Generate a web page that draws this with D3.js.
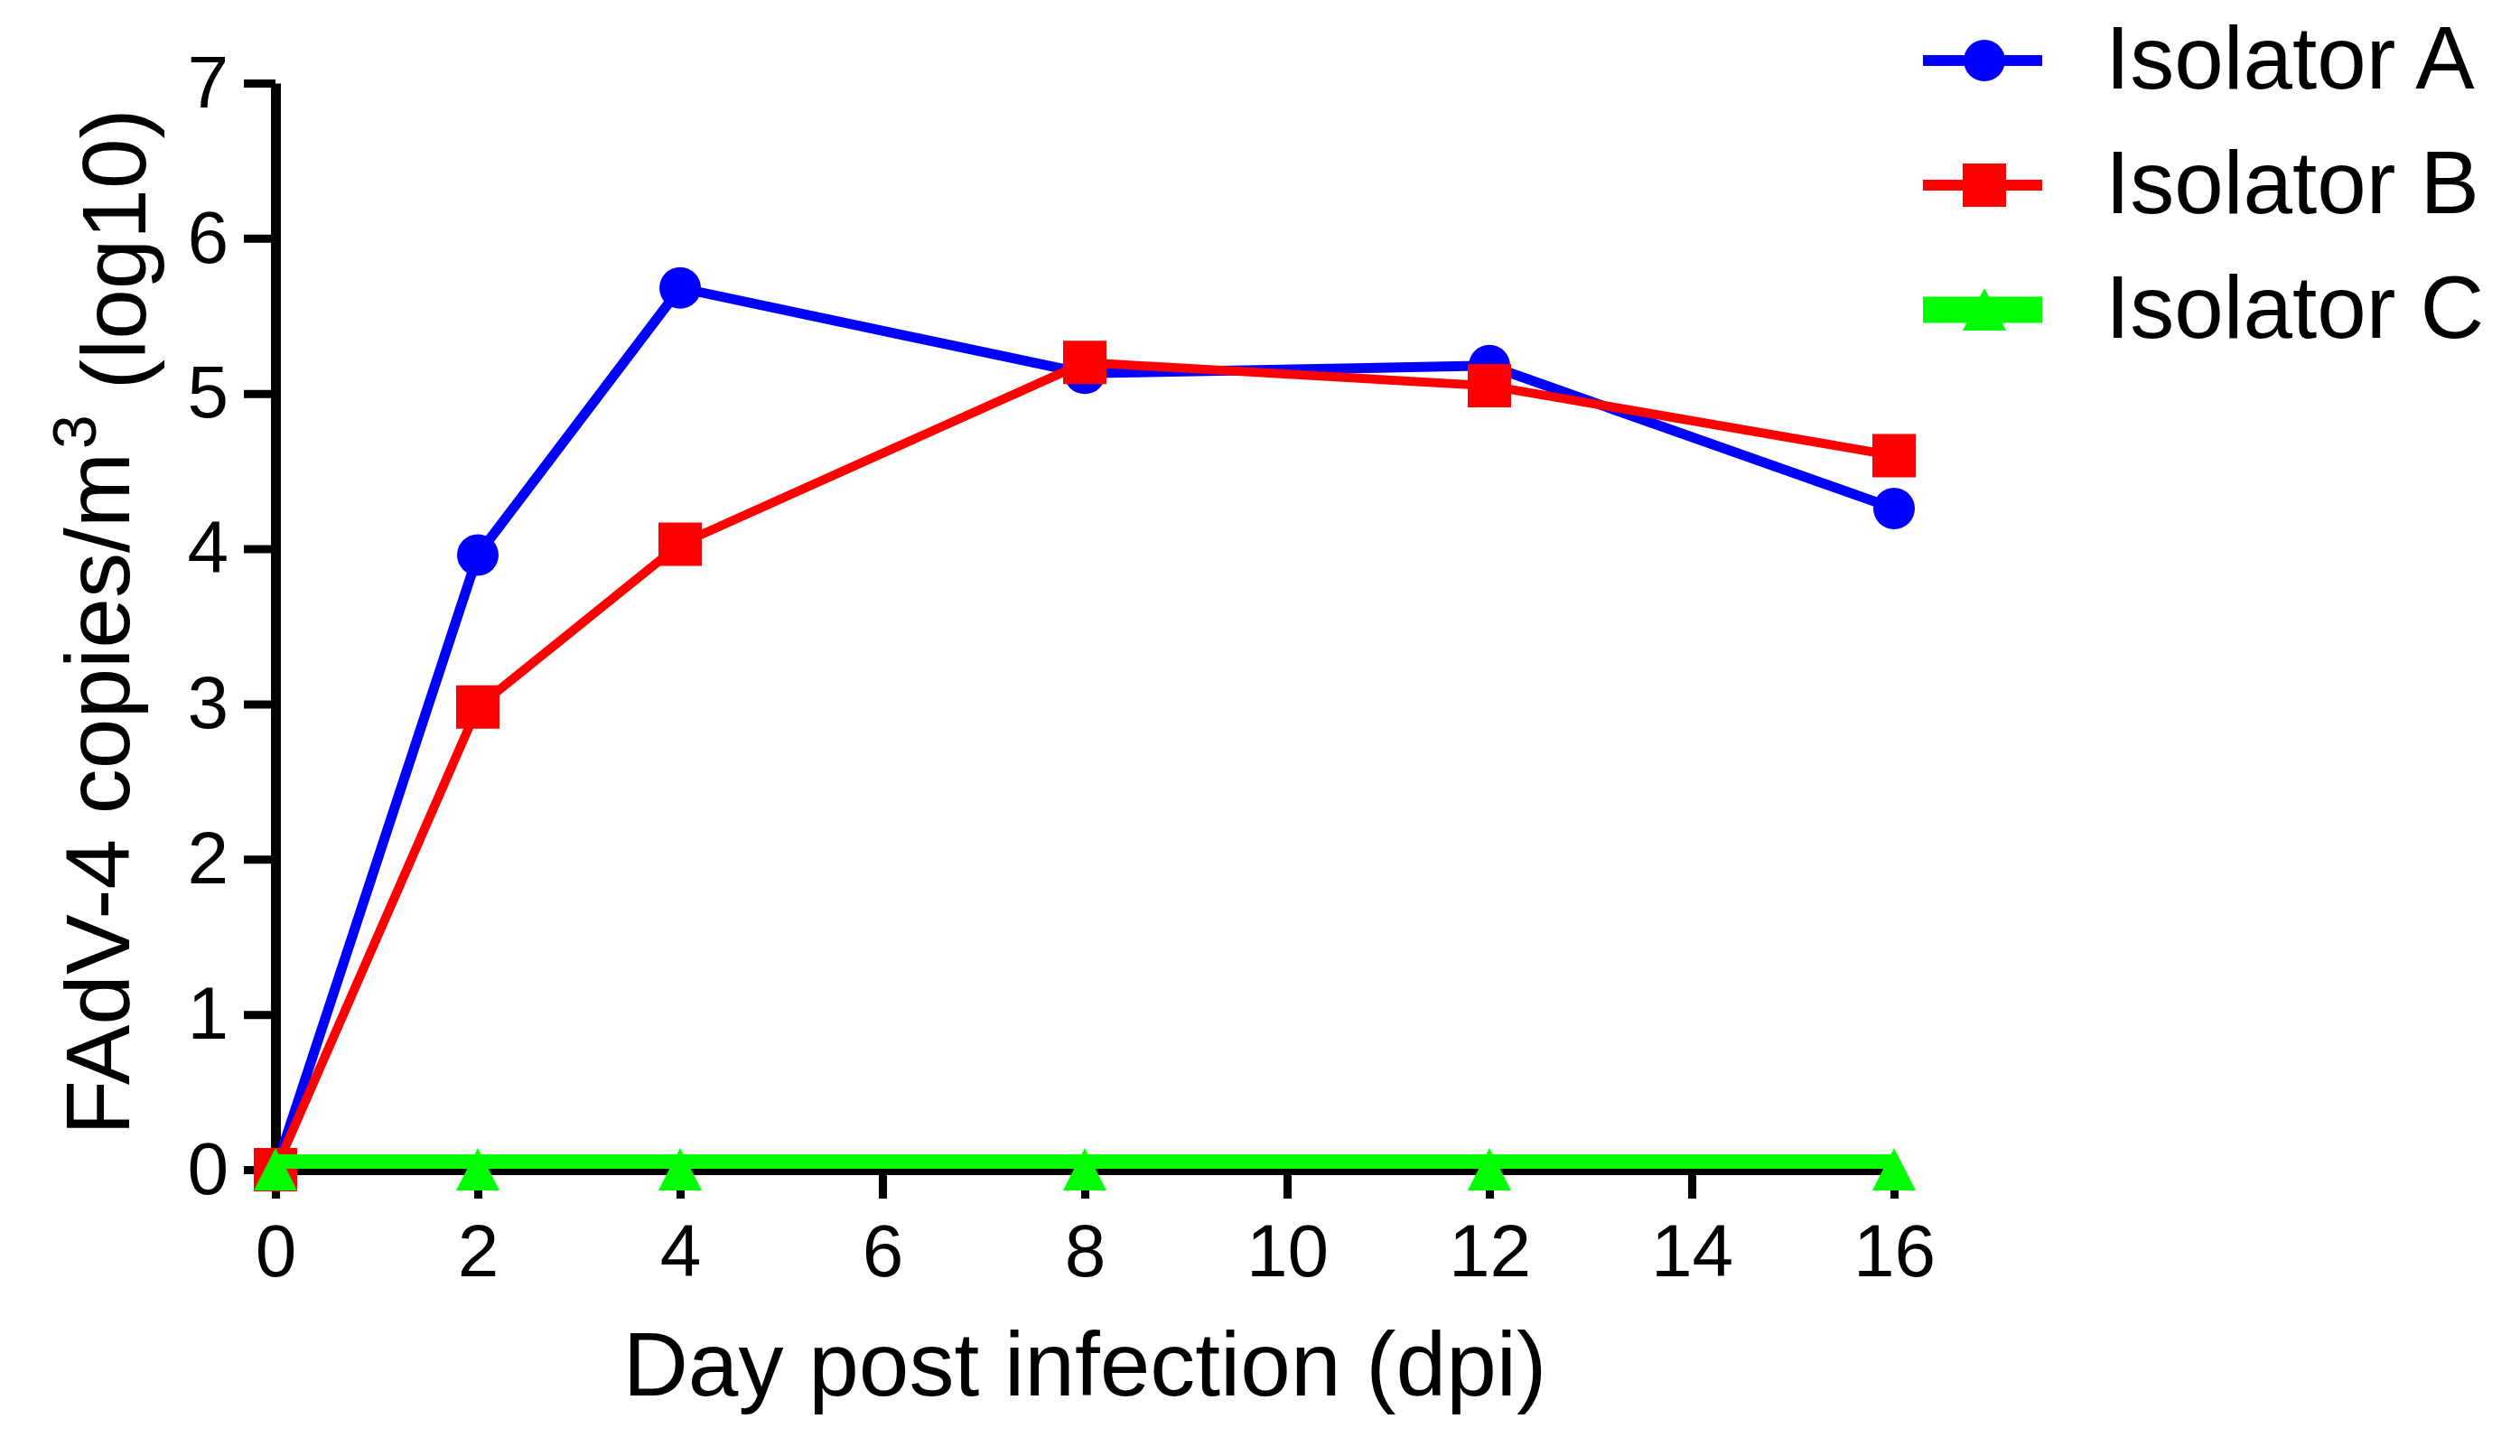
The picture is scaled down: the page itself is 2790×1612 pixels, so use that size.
<!DOCTYPE html>
<html>
<head>
<meta charset="utf-8">
<script src="https://cdn.jsdelivr.net/npm/d3@7.9.0/dist/d3.min.js"></script>
<style>
  html, body { margin: 0; padding: 0; background: #fff; }
  svg { display: block; font-family: "Liberation Sans", Arial, sans-serif; }
</style>
</head>
<body>
<div id="chart"></div>
<script>
// Data
const days = [0, 2, 4, 8, 12, 16];
const isolatorA = [0, 3.96, 5.68, 5.13, 5.18, 4.26];
const isolatorB = [0, 2.98, 4.03, 5.2, 5.05, 4.6];
const isolatorC = [0, 0, 0, 0, 0, 0];
const seriesNames = ['Isolator A', 'Isolator B', 'Isolator C'];
const xTicks = [0, 2, 4, 6, 8, 10, 12, 14, 16];
const yTicks = [0, 1, 2, 3, 4, 5, 6, 7];

const width = 2790;
const height = 1612;
const margin = { top: 92, right: 693, bottom: 317, left: 305 };

const svg = d3.select('#chart')
    .append('svg')
    .attr('width', width)
    .attr('height', height);

const xScale = d3.scaleLinear()
    .domain([0, 16])
    .range([margin.left, width - margin.right]);

const yScale = d3.scaleLinear()
    .domain([0, 7])
    .range([height - margin.bottom, margin.top]);

// Axes
const xAxis = svg.append('g')
    .attr('transform', `translate(0, ${yScale(0)})`)
    .call(d3.axisBottom(xScale)
        .tickValues(xTicks)
        .tickFormat(d3.format('d'))
        .tickSize(32).tickSizeOuter(0).tickPadding(28));

const yAxis = svg.append('g')
    .attr('transform', `translate(${xScale(0)}, 0)`)
    .call(d3.axisLeft(yScale)
        .tickValues(yTicks)
        .tickFormat(d3.format('d'))
        .tickSize(35).tickSizeOuter(0).tickPadding(17));

[xAxis, yAxis].forEach((ax) => {
    ax.select('.domain').attr('stroke', '#000').attr('stroke-width', 11);
    ax.selectAll('.tick line').attr('stroke', '#000').attr('stroke-width', 9);
    ax.selectAll('.tick text')
        .attr('fill', '#000')
        .style('font-size', '82px')
        .style('font-family', '"Liberation Sans", Arial, sans-serif');
});

// Axis titles
svg.append('text')
    .attr('x', (xScale(0) + xScale(16)) / 2)
    .attr('y', 1545)
    .attr('text-anchor', 'middle')
    .style('font-size', '100px')
    .text('Day post infection (dpi)');

const yTitle = svg.append('text')
    .attr('transform', `translate(143, ${(yScale(0) + yScale(7)) / 2 - 5}) rotate(-90)`)
    .attr('text-anchor', 'middle')
    .style('font-size', '100px');
yTitle.append('tspan').text('FAdV-4 copies/m');
yTitle.append('tspan').attr('dy', '-0.55em').attr('dx', '4').style('font-size', '68px').text('3');
yTitle.append('tspan').attr('dy', '0.55em').text(' (log10)');

// Marker shapes
function trianglePath() {
    const p = d3.path();
    p.moveTo(0, -24);
    p.lineTo(24, 23);
    p.lineTo(-24, 23);
    p.closePath();
    return p.toString();
}
const markers = {
    circle: d3.symbol().type(d3.symbolCircle).size(Math.PI * 23 * 23)(),
    square: d3.symbol().type(d3.symbolSquare).size(48 * 48)(),
    triangle: trianglePath(),
};

const series = [
    { name: seriesNames[0], values: isolatorA, color: '#0000ff', width: 11, marker: 'circle', shift: 0, legendWidth: 12 },
    { name: seriesNames[1], values: isolatorB, color: '#ff0000', width: 10, marker: 'square', shift: 0, legendWidth: 12 },
    { name: seriesNames[2], values: isolatorC, color: '#00ff00', width: 16, marker: 'triangle', shift: -9, legendWidth: 29 },
];

const line = d3.line()
    .x((d) => xScale(d[0]))
    .y((d) => yScale(d[1]));

series.forEach((s) => {
    const pts = days.map((d, i) => [d, s.values[i]]);
    const g = svg.append('g').attr('class', 'series');
    g.append('path')
        .datum(pts)
        .attr('d', line)
        .attr('transform', `translate(0, ${s.shift})`)
        .attr('fill', 'none')
        .attr('stroke', s.color)
        .attr('stroke-width', s.width)
        .attr('stroke-linejoin', 'round');
    g.selectAll('path.marker')
        .data(pts)
        .join('path')
        .attr('class', 'marker')
        .attr('d', markers[s.marker])
        .attr('transform', (d) => `translate(${xScale(d[0])}, ${yScale(d[1])})`)
        .attr('fill', s.color);
});

// Legend
const legend = svg.append('g').attr('class', 'legend');
const legendY = d3.scalePoint().domain(seriesNames).range([67, 343]);

series.forEach((s) => {
    const y = legendY(s.name);
    legend.append('line')
        .attr('x1', 2129)
        .attr('x2', 2261)
        .attr('y1', y)
        .attr('y2', y)
        .attr('stroke', s.color)
        .attr('stroke-width', s.legendWidth);
    legend.append('path')
        .attr('d', markers[s.marker])
        .attr('transform', `translate(2197, ${y})`)
        .attr('fill', s.color);
    legend.append('text')
        .attr('x', 2331)
        .attr('y', y)
        .attr('dy', '0.32em')
        .style('font-size', '98px')
        .text(s.name);
});
</script>
</body>
</html>
